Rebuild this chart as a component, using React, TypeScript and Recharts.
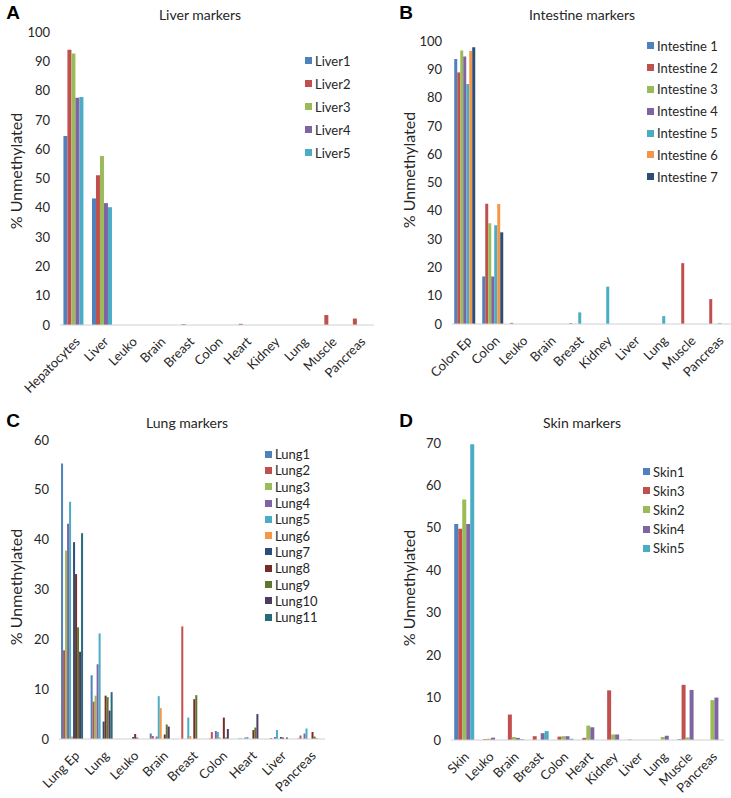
import React from "react";
import { BarChart, Bar, XAxis, YAxis, Legend } from "recharts";

// ---------- Panel A: Liver markers ----------
const liverCategories = ["Hepatocytes", "Liver", "Leuko", "Brain", "Breast", "Colon", "Heart", "Kidney", "Lung", "Muscle", "Pancreas"];
const liver1 = [64.5, 43.2, 0, 0, 0, 0, 0, 0, 0, 0, 0];
const liver2 = [93.9, 51.1, 0, 0, 0.3, 0, 0.4, 0, 0, 3.4, 2.2];
const liver3 = [92.7, 57.7, 0, 0, 0, 0, 0, 0, 0, 0, 0];
const liver4 = [77.6, 41.6, 0, 0, 0, 0, 0, 0, 0, 0, 0];
const liver5 = [77.8, 40.2, 0, 0, 0, 0, 0, 0, 0, 0, 0];
const liverTicks = [0, 10, 20, 30, 40, 50, 60, 70, 80, 90, 100];

// ---------- Panel B: Intestine markers ----------
const intestineCategories = ["Colon Ep", "Colon", "Leuko", "Brain", "Breast", "Kidney", "Liver", "Lung", "Muscle", "Pancreas"];
const intestine1 = [93.6, 16.8, 0.4, 0, 0, 0, 0, 0, 0, 0];
const intestine2 = [88.9, 42.5, 0, 0, 0.3, 0, 0, 0, 21.5, 8.8];
const intestine3 = [96.6, 35.6, 0, 0, 0, 0, 0, 0, 0, 0];
const intestine4 = [94.5, 16.8, 0, 0, 0, 0, 0, 0, 0, 0];
const intestine5 = [84.8, 34.9, 0, 0, 4.1, 13.2, 0, 2.8, 0, 0.3];
const intestine6 = [96.5, 42.4, 0, 0, 0, 0, 0, 0, 0, 0];
const intestine7 = [97.8, 32.4, 0, 0, 0, 0, 0, 0, 0, 0];
const intestineTicks = [0, 10, 20, 30, 40, 50, 60, 70, 80, 90, 100];

// ---------- Panel C: Lung markers ----------
const lungCategories = ["Lung Ep", "Lung", "Leuko", "Brain", "Breast", "Colon", "Heart", "Liver", "Pancreas"];
const lung1 = [55.3, 12.8, 0, 1.1, 0, 0.1, 0.1, 0, 0.1];
const lung2 = [17.8, 7.5, 0, 0.6, 22.6, 1.4, 0.1, 0.2, 0.7];
const lung3 = [37.8, 8.7, 0, 0.1, 0, 0, 0, 0, 0];
const lung4 = [43.2, 15.0, 0, 0.5, 0, 1.6, 0.3, 0.4, 1.1];
const lung5 = [47.6, 21.2, 0, 8.6, 4.3, 1.4, 0.4, 1.8, 2.1];
const lung6 = [0.5, 0, 0, 6.2, 0.6, 0.3, 0, 0, 0];
const lung7 = [39.5, 3.5, 0.4, 0, 0, 0, 0, 0.4, 0];
const lung8 = [33.1, 8.7, 1.0, 0.9, 8.0, 4.3, 1.8, 0.3, 1.4];
const lung9 = [22.4, 8.4, 0.3, 2.9, 8.8, 0.3, 2.3, 0, 0.5];
const lung10 = [17.5, 5.7, 0, 2.5, 0, 2.0, 5.0, 0.3, 0.1];
const lung11 = [41.3, 9.4, 0, 0, 0, 0, 0, 0, 0];
const lungTicks = [0, 10, 20, 30, 40, 50, 60];

// ---------- Panel D: Skin markers ----------
const skinCategories = ["Skin", "Leuko", "Brain", "Breast", "Colon", "Heart", "Kidney", "Liver", "Lung", "Muscle", "Pancreas"];
const skin1 = [50.9, 0, 0, 0, 0, 0, 0, 0.1, 0, 0.2, 0];
const skin3 = [49.8, 0.2, 6.0, 0.9, 0.8, 0.5, 11.7, 0, 0, 13.0, 0];
const skin2 = [56.7, 0.3, 0.7, 0, 0.9, 3.4, 1.3, 0, 0.7, 0.6, 9.4];
const skin4 = [50.9, 0.55, 0.5, 1.6, 0.9, 3.0, 1.3, 0, 1.0, 11.8, 10.0];
const skin5 = [69.7, 0, 0.2, 2.1, 0.3, 0, 0, 0, 0, 0, 0];
const skinTicks = [0, 10, 20, 30, 40, 50, 60, 70];

const C = {
  blue: "#4F81BD",
  red: "#C0504D",
  green: "#9BBB59",
  purple: "#8064A2",
  aqua: "#4BACC6",
  orange: "#F79646",
  navy: "#2C4D75",
  dkred: "#772C2A",
  dkgreen: "#5F7530",
  dkpurple: "#4D3B62",
  dkteal: "#276A7C",
};

type Series = { name: string; color: string; values: number[] };

const FONT = "Lato, 'Open Sans', sans-serif";
const TEXT = "#262626";

function makeLegend(series: Series[], rowH: number, fontSize: number) {
  return () => (
    <div style={{ fontFamily: FONT, fontSize, color: TEXT }}>
      {series.map((s) => (
        <div key={s.name} style={{ display: "flex", alignItems: "center", height: rowH, whiteSpace: "nowrap" }}>
          <span style={{ display: "inline-block", width: 7, height: 7, background: s.color, marginRight: 3 }} />
          <span>{s.name}</span>
        </div>
      ))}
    </div>
  );
}

type PanelProps = {
  left: number;
  top: number;
  width: number;
  height: number;
  margin: { top: number; right: number; bottom: number; left: number };
  yWidth: number;
  xHeight: number;
  categories: string[];
  series: Series[];
  yMax: number;
  ticks: number[];
  gap: string;
  legendPos: { left: number; top: number };
  legendRow: number;
  legendFont: number;
};

function Panel(p: PanelProps) {
  const data = p.categories.map((c, i) => {
    const row: any = { name: c };
    p.series.forEach((s) => (row[s.name] = s.values[i]));
    return row;
  });
  return (
    <div style={{ position: "absolute", left: p.left, top: p.top }}>
      <BarChart
        width={p.width}
        height={p.height}
        data={data}
        margin={p.margin}
        barGap={0}
        barCategoryGap={p.gap}
        style={{ fontFamily: FONT }}
      >
        <XAxis
          dataKey="name"
          interval={0}
          angle={-45}
          textAnchor="end"
          tickLine={false}
          tickSize={2}
          tickMargin={9}
          height={p.xHeight}
          axisLine={{ stroke: "#D0D0D0" }}
          tick={{ fontSize: 13, fill: TEXT }}
        />
        <YAxis
          domain={[0, p.yMax]}
          ticks={p.ticks}
          interval={0}
          width={p.yWidth}
          axisLine={false}
          tickLine={false}
          tickSize={0}
          tickMargin={10}
          tick={{ fontSize: 13, fill: TEXT }}
        />
        <Legend
          layout="vertical"
          align="center"
          verticalAlign="middle"
          content={makeLegend(p.series, p.legendRow, p.legendFont)}
          wrapperStyle={{ left: p.legendPos.left, top: p.legendPos.top, width: 90, height: "auto" }}
        />
        {p.series.map((s) => (
          <Bar key={s.name} dataKey={s.name} name={s.name} fill={s.color} isAnimationActive={false} />
        ))}
      </BarChart>
    </div>
  );
}

function Label({ x, y, text, bold, size }: { x: number; y: number; text: string; bold?: boolean; size: number }) {
  return (
    <div
      style={{
        position: "absolute",
        left: x,
        top: y,
        transform: "translate(-50%, -50%)",
        fontFamily: bold ? "Arial, 'Liberation Sans', sans-serif" : FONT,
        fontWeight: bold ? 700 : 400,
        fontSize: size,
        color: bold ? "#000" : TEXT,
        whiteSpace: "nowrap",
      }}
    >
      {text}
    </div>
  );
}

function YTitle({ x, y }: { x: number; y: number }) {
  return (
    <div
      style={{
        position: "absolute",
        left: x,
        top: y,
        transform: "translate(-50%, -50%) rotate(-90deg)",
        fontFamily: FONT,
        fontSize: 16,
        color: TEXT,
        whiteSpace: "nowrap",
      }}
    >
      % Unmethylated
    </div>
  );
}

export default function App() {
  const liverSeries: Series[] = [
    { name: "Liver1", color: C.blue, values: liver1 },
    { name: "Liver2", color: C.red, values: liver2 },
    { name: "Liver3", color: C.green, values: liver3 },
    { name: "Liver4", color: C.purple, values: liver4 },
    { name: "Liver5", color: C.aqua, values: liver5 },
  ];
  const intestineSeries: Series[] = [
    { name: "Intestine 1", color: C.blue, values: intestine1 },
    { name: "Intestine 2", color: C.red, values: intestine2 },
    { name: "Intestine 3", color: C.green, values: intestine3 },
    { name: "Intestine 4", color: C.purple, values: intestine4 },
    { name: "Intestine 5", color: C.aqua, values: intestine5 },
    { name: "Intestine 6", color: C.orange, values: intestine6 },
    { name: "Intestine 7", color: C.navy, values: intestine7 },
  ];
  const lungSeries: Series[] = [
    { name: "Lung1", color: C.blue, values: lung1 },
    { name: "Lung2", color: C.red, values: lung2 },
    { name: "Lung3", color: C.green, values: lung3 },
    { name: "Lung4", color: C.purple, values: lung4 },
    { name: "Lung5", color: C.aqua, values: lung5 },
    { name: "Lung6", color: C.orange, values: lung6 },
    { name: "Lung7", color: C.navy, values: lung7 },
    { name: "Lung8", color: C.dkred, values: lung8 },
    { name: "Lung9", color: C.dkgreen, values: lung9 },
    { name: "Lung10", color: C.dkpurple, values: lung10 },
    { name: "Lung11", color: C.dkteal, values: lung11 },
  ];
  const skinSeries: Series[] = [
    { name: "Skin1", color: C.blue, values: skin1 },
    { name: "Skin3", color: C.red, values: skin3 },
    { name: "Skin2", color: C.green, values: skin2 },
    { name: "Skin4", color: C.purple, values: skin4 },
    { name: "Skin5", color: C.aqua, values: skin5 },
  ];

  return (
    <div style={{ position: "absolute", left: 0, top: 0, width: 731, height: 798, background: "#fff", overflow: "hidden" }}>
      {/* Panel A */}
      <Panel
        left={0}
        top={0}
        width={380}
        height={400}
        margin={{ top: 32, right: 6, bottom: 15, left: 10 }}
        yWidth={50}
        xHeight={60}
        categories={liverCategories}
        series={liverSeries}
        yMax={100}
        ticks={liverTicks}
        gap="12%"
        legendPos={{ left: 305, top: 49 }}
        legendRow={23}
        legendFont={13}
      />
      {/* Panel B */}
      <Panel
        left={365}
        top={0}
        width={370}
        height={400}
        margin={{ top: 41, right: 3, bottom: 16, left: 37 }}
        yWidth={50}
        xHeight={60}
        categories={intestineCategories}
        series={intestineSeries}
        yMax={100}
        ticks={intestineTicks}
        gap="8%"
        legendPos={{ left: 282, top: 35 }}
        legendRow={21.8}
        legendFont={13}
      />
      {/* Panel C */}
      <Panel
        left={0}
        top={400}
        width={330}
        height={398}
        margin={{ top: 40, right: 5, bottom: 4, left: 9 }}
        yWidth={50}
        xHeight={55}
        categories={lungCategories}
        series={lungSeries}
        yMax={60}
        ticks={lungTicks}
        gap="7%"
        legendPos={{ left: 265, top: 46 }}
        legendRow={16.3}
        legendFont={13}
      />
      {/* Panel D */}
      <Panel
        left={365}
        top={400}
        width={365}
        height={398}
        margin={{ top: 43, right: 6, bottom: 3, left: 36 }}
        yWidth={50}
        xHeight={55}
        categories={skinCategories}
        series={skinSeries}
        yMax={70}
        ticks={skinTicks}
        gap="13%"
        legendPos={{ left: 278, top: 62 }}
        legendRow={19.2}
        legendFont={13}
      />

      <Label x={13} y={13} text="A" bold size={19} />
      <Label x={200} y={14} text="Liver markers" size={14} />
      <Label x={406} y={13} text="B" bold size={19} />
      <Label x={582} y={14} text="Intestine markers" size={14} />
      <Label x={13} y={421} text="C" bold size={19} />
      <Label x={187} y={422} text="Lung markers" size={14} />
      <Label x={406} y={421} text="D" bold size={19} />
      <Label x={582} y={422} text="Skin markers" size={14} />

      <YTitle x={15} y={171} />
      <YTitle x={408} y={170} />
      <YTitle x={15} y={587} />
      <YTitle x={408} y={588} />
    </div>
  );
}
